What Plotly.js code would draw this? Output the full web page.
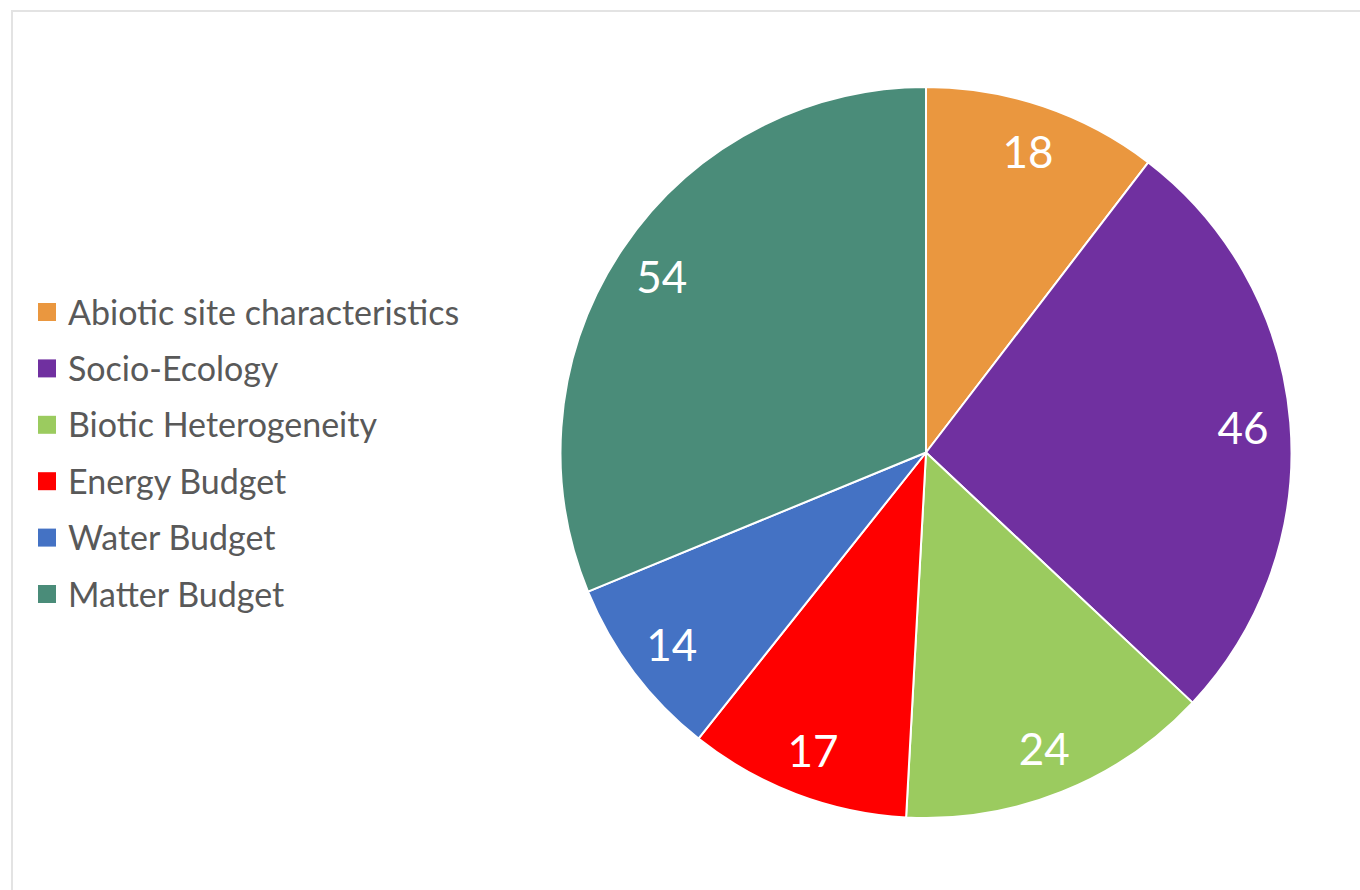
<!DOCTYPE html>
<html>
<head>
<meta charset="utf-8">
<script src="https://cdn.plot.ly/plotly-3.0.1.min.js"></script>
<style>
  html, body { margin: 0; padding: 0; background: #fff; overflow: hidden; }
  #frame { position: absolute; left: 11px; top: 10px; width: 1400px; height: 940px; border: 2px solid #e3e3e3; box-sizing: border-box; }
  #chart { position: absolute; left: 0; top: 0; width: 1360px; height: 890px; }
</style>
</head>
<body>
<div id="frame"></div>
<div id="chart"></div>
<script>
const categories = ["Abiotic site characteristics", "Socio-Ecology", "Biotic Heterogeneity", "Energy Budget", "Water Budget", "Matter Budget"];
const counts = [18, 46, 24, 17, 14, 54];
const sliceColors = ["#EA973F", "#7030A0", "#9BCB5F", "#FF0000", "#4472C4", "#4A8C79"];

const W = 1360, H = 890;
const FONT = "Lato, 'Open Sans', sans-serif";

const shapes = [];
const annotations = [];
const legTop = 312, legStep = 56.4, sq = 18;
categories.forEach((c, i) => {
  const yc = legTop + i * legStep;
  shapes.push({
    type: "rect", xref: "paper", yref: "paper",
    x0: 38 / W, x1: (38 + sq) / W,
    y0: 1 - (yc + sq / 2) / H, y1: 1 - (yc - sq / 2) / H,
    fillcolor: sliceColors[i], line: { width: 0 }
  });
  annotations.push({
    xref: "paper", yref: "paper", x: 66 / W, y: 1 - (yc - 1) / H,
    xanchor: "left", yanchor: "middle", showarrow: false,
    text: c, font: { family: FONT, size: 34, color: "#595959" }
  });
});

const cx = 926, cy = 452.5, r = 365.5;
const dom = { x: [(cx - r) / W, (cx + r) / W], y: [1 - (cy + r) / H, 1 - (cy - r) / H] };
const data = [{
  type: "pie",
  labels: categories,
  values: counts,
  sort: false,
  direction: "clockwise",
  rotation: 0,
  marker: { colors: sliceColors, line: { color: "#ffffff", width: 2 } },
  textinfo: "none",
  hoverinfo: "label+value",
  showlegend: false,
  domain: dom
}, {
  type: "pie",
  labels: categories,
  values: counts,
  sort: false,
  direction: "clockwise",
  rotation: 0,
  hole: 0.74,
  marker: { colors: sliceColors.map(() => "rgba(0,0,0,0)"), line: { width: 0 } },
  textinfo: "value",
  textposition: "inside",
  insidetextorientation: "horizontal",
  textfont: { family: FONT, size: 44, color: "#ffffff" },
  hoverinfo: "skip",
  showlegend: false,
  domain: dom
}];

const layout = {
  width: W, height: H,
  margin: { l: 0, r: 0, t: 0, b: 0 },
  paper_bgcolor: "rgba(0,0,0,0)",
  plot_bgcolor: "rgba(0,0,0,0)",
  showlegend: false,
  shapes: shapes,
  annotations: annotations
};

Plotly.newPlot("chart", data, layout, { displayModeBar: false, staticPlot: true });
</script>
</body>
</html>
